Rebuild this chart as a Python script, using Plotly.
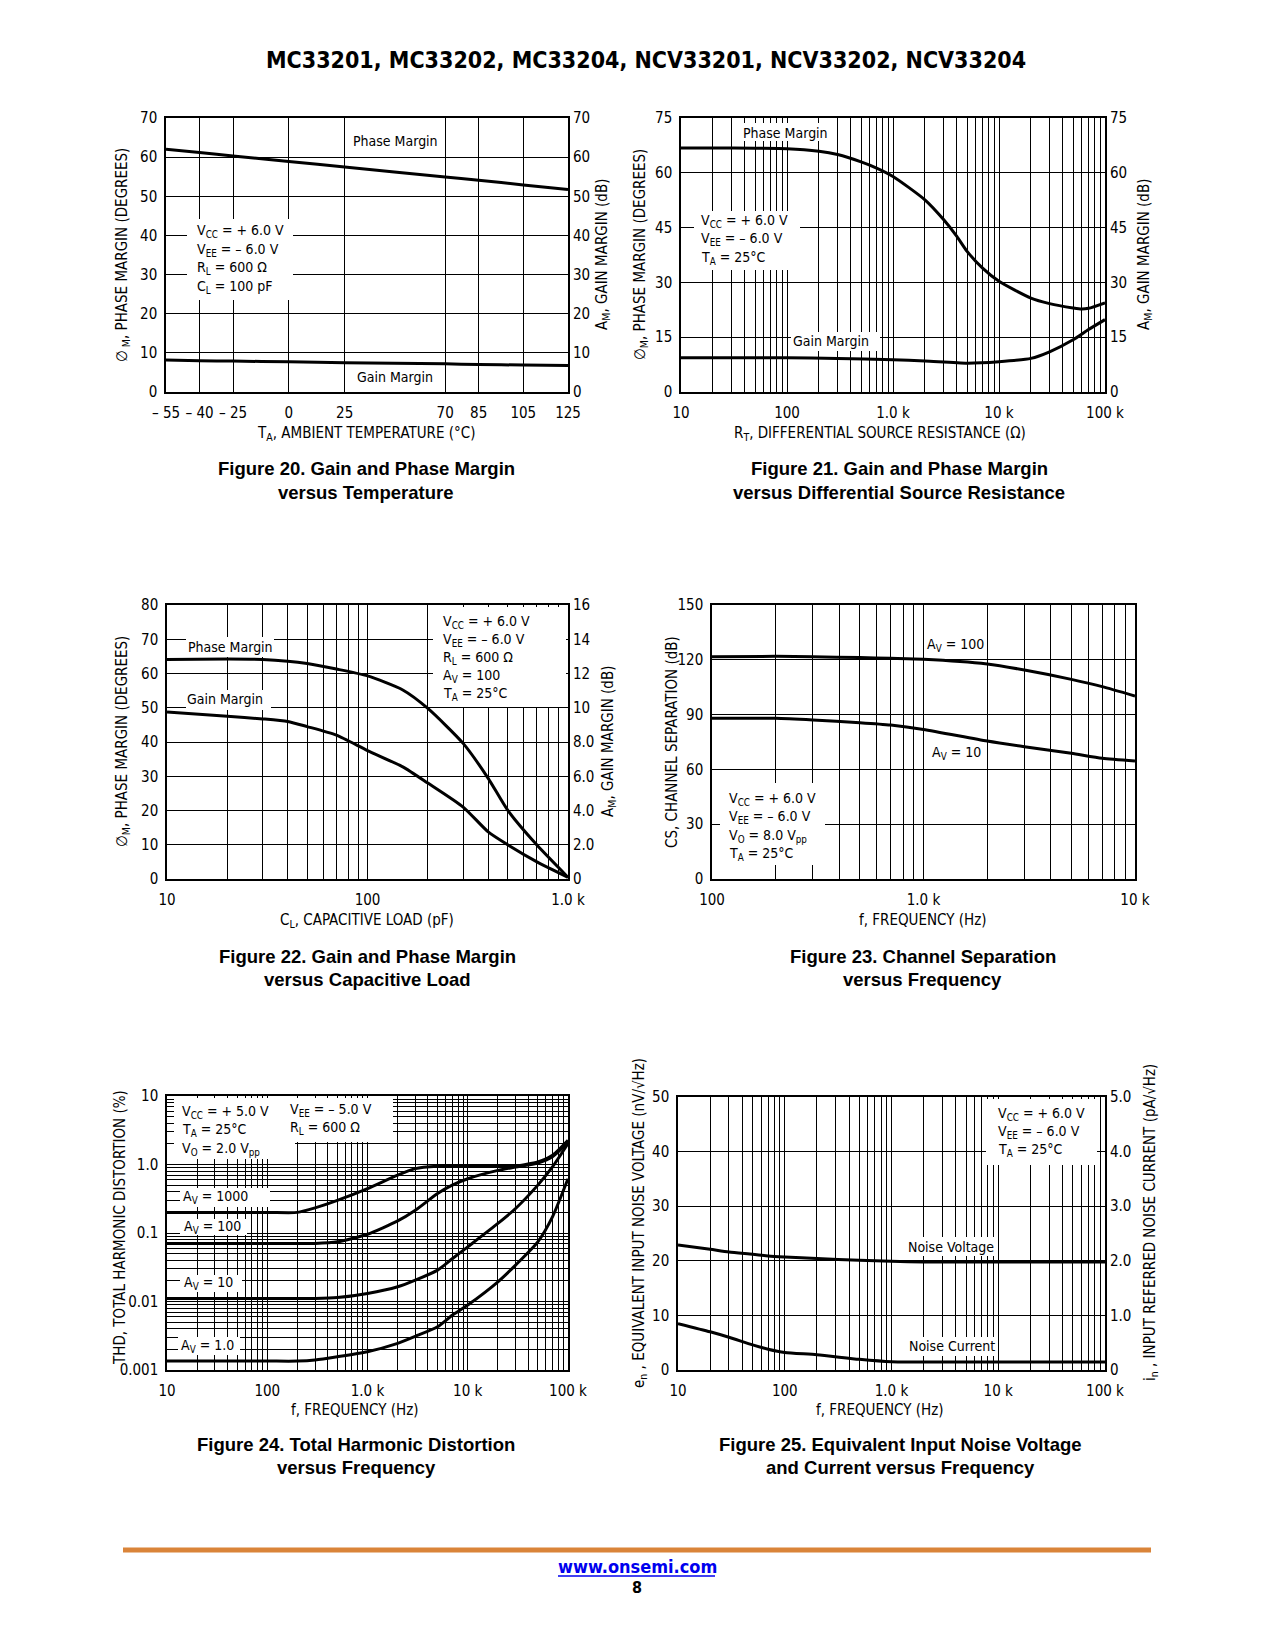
import plotly.graph_objects as go

# page body has an 8 px margin; size the figure so the page fits the window exactly
OFF = 8
W, H = 1275 - 2 * OFF, 1650 - 2 * OFF
NARROW = "DejaVu Sans Condensed, Liberation Sans Narrow, Arial Narrow, sans-serif"
BOLDF = "Liberation Sans, Arial, Helvetica, sans-serif"

# ---------------- data ----------------
# Figure 20: gain / phase margin vs temperature
f20_temp = [-55, -40, -25, 0, 25, 70, 85, 105, 125]
f20_phase = [62.0, 61.2, 60.3, 58.9, 57.5, 54.9, 54.1, 52.9, 51.7]
f20_gain = [8.2, 8.0, 7.9, 7.7, 7.5, 7.2, 7.0, 6.9, 6.8]
f20_xtick_vals = [-55, -40, -25, 0, 25, 70, 85, 105, 125]
f20_xtick_text = ["– 55", "– 40", "– 25", "0", "25", "70", "85", "105", "125"]
f20_ytick_vals = [0, 10, 20, 30, 40, 50, 60, 70]

# Figure 21: gain / phase margin vs differential source resistance
f21_rt_phase = [10, 20, 50, 100, 200, 300, 500, 700, 1000, 2000, 3000, 4000, 5000,
                7000, 10000, 20000, 30000, 50000, 60000, 70000, 100000]
f21_phase = [66.8, 66.8, 66.7, 66.6, 65.9, 65.0, 63.0, 61.3, 59.0, 52.6, 47.2, 42.6, 38.5,
             33.9, 30.3, 25.7, 24.2, 23.0, 22.7, 22.9, 24.4]
f21_rt_gain = [10, 100, 300, 1000, 2000, 5000, 10000, 20000, 30000, 50000, 70000, 100000]
f21_gain = [9.4, 9.4, 9.2, 8.8, 8.5, 7.9, 8.3, 9.2, 11.0, 14.3, 17.1, 19.8]
f21_ytick_vals = [0, 15, 30, 45, 60, 75]

# Figure 22: gain / phase margin vs capacitive load
f22_cl = [10, 20, 30, 40, 50, 70, 100, 150, 200, 300, 400, 500, 700, 1000]
f22_phase = [64.1, 64.2, 64.1, 63.6, 62.9, 61.3, 59.3, 55.2, 49.8, 39.6, 29.4, 20.1, 9.9, 0.5]
f22_gain_db = [9.75, 9.5, 9.35, 9.2, 8.9, 8.4, 7.5, 6.55, 5.6, 4.2, 2.75, 2.0, 1.0, 0.1]
f22_ytick_vals = [0, 10, 20, 30, 40, 50, 60, 70, 80]
f22_y2tick_vals = [0, 2, 4, 6, 8, 10, 12, 14, 16]
f22_y2tick_text = ["0", "2.0", "4.0", "6.0", "8.0", "10", "12", "14", "16"]

# Figure 23: channel separation vs frequency
f23_freq = [100, 200, 300, 500, 700, 1000, 2000, 3000, 5000, 7000, 10000]
f23_av100 = [121.7, 121.9, 121.7, 121.2, 120.8, 120.3, 117.7, 114.4, 109.3, 105.3, 100.2]
f23_av10 = [88.0, 88.0, 87.1, 85.6, 84.3, 81.9, 75.5, 72.4, 68.8, 66.1, 64.6]
f23_ytick_vals = [0, 30, 60, 90, 120, 150]

# Figure 24: THD vs frequency
f24_freq = [10, 100, 200, 300, 500, 1000, 2000, 3000, 5000, 7000, 10000, 20000, 30000, 50000, 70000, 100000]
f24_av1000 = [0.2, 0.2, 0.2, 0.233, 0.30, 0.446, 0.70, 0.87, 0.94, 0.95, 0.95, 0.95, 0.95, 1.09, 1.36, 2.26]
f24_av100 = [0.0703, 0.0703, 0.0703, 0.0705, 0.0744, 0.096, 0.150, 0.215, 0.377, 0.50, 0.62, 0.82, 0.92, 1.05, 1.3, 2.1]
f24_av10 = [0.0111, 0.0111, 0.0111, 0.0111, 0.0114, 0.0131, 0.0164, 0.0205, 0.0287, 0.042, 0.0628, 0.138, 0.228, 0.50, 0.92, 2.02]
f24_av1 = [0.00135, 0.00135, 0.00135, 0.0014, 0.00156, 0.00185, 0.00245, 0.0031, 0.00428, 0.0063, 0.00888, 0.0194, 0.034, 0.0743, 0.172, 0.62]

# Figure 25: noise voltage / current vs frequency
f25_freq = [10, 20, 30, 50, 70, 100, 200, 500, 1000, 2000, 10000, 100000]
f25_noise_v = [22.9, 22.1, 21.6, 21.2, 20.9, 20.7, 20.4, 20.1, 19.9, 19.8, 19.8, 19.8]
f25_noise_i = [0.85, 0.70, 0.60, 0.46, 0.38, 0.32, 0.28, 0.195, 0.15, 0.145, 0.145, 0.145]
f25_ytick_vals = [0, 10, 20, 30, 40, 50]
f25_y2tick_vals = [0, 1, 2, 3, 4, 5]
f25_y2tick_text = ["0", "1.0", "2.0", "3.0", "4.0", "5.0"]

freq_labels = {1: "10", 2: "100", 3: "1.0 k", 4: "10 k", 5: "100 k"}
thd_labels = {-3: "0.001", -2: "0.01", -1: "0.1", 0: "1.0", 1: "10"}

# ---------------- geometry (page pixels) ----------------
P = {
    1: (166, 568, 118, 392),
    2: (681, 1105, 118, 392),
    3: (167, 568, 605, 879),
    4: (712, 1135, 605, 879),
    5: (167, 568, 1096, 1370),
    6: (678, 1105, 1097, 1370),
}


def X(px):
    return (px - OFF) / W


def Y(py):
    return 1 - (py - OFF) / H


def xdom(n):
    l, r, t, b = P[n]
    return [X(l), X(r)]


def ydom(n):
    l, r, t, b = P[n]
    return [Y(b), Y(t)]


def decades(lo, hi, labels):
    vals = [10.0 ** e for e in range(lo, hi + 1)]
    txt = [labels[e] for e in range(lo, hi + 1)]
    minor = [m * 10.0 ** e for e in range(lo, hi) for m in range(2, 10)]
    return vals, txt, minor


TICKFONT = dict(family=NARROW, size=15, color="black")
GRID = dict(showgrid=True, gridcolor="black", gridwidth=1)


def main_axis(minor_vals=None, **kw):
    d = dict(showline=True, linecolor="black", linewidth=1.5, mirror=True,
             zeroline=False, ticks="", tickfont=TICKFONT, tickmode="array",
             fixedrange=True, ticklabelstandoff=4, automargin=False, **GRID)
    if minor_vals:
        d["minor"] = dict(tickmode="array", tickvals=minor_vals, ticks="", **GRID)
    d.update(kw)
    return d


def side_axis(**kw):
    d = dict(showline=False, showgrid=False, zeroline=False, ticks="",
             tickfont=TICKFONT, tickmode="array", side="right", fixedrange=True,
             ticklabelstandoff=4, automargin=False)
    d.update(kw)
    return d


fig = go.Figure()
LINE = dict(color="black", width=3, shape="spline", smoothing=0.6)


def add(x, y, xa, ya):
    fig.add_trace(go.Scatter(x=x, y=y, mode="lines", line=LINE, xaxis=xa, yaxis=ya,
                             showlegend=False, hoverinfo="skip"))


add(f20_temp, f20_phase, "x", "y")
add(f20_temp, f20_gain, "x", "y2")
add(f21_rt_phase, f21_phase, "x2", "y3")
add(f21_rt_gain, f21_gain, "x2", "y4")
add(f22_cl, f22_phase, "x3", "y5")
add(f22_cl, f22_gain_db, "x3", "y6")
add(f23_freq, f23_av100, "x4", "y7")
add(f23_freq, f23_av10, "x4", "y7")
for s in (f24_av1000, f24_av100, f24_av10, f24_av1):
    add(f24_freq, s, "x5", "y8")
add(f25_freq, f25_noise_v, "x6", "y9")
add(f25_freq, f25_noise_i, "x6", "y10")

fx5v, fx5t, fx5m = decades(1, 5, freq_labels)
fx3v, fx3t, fx3m = decades(1, 3, freq_labels)
fx4v, fx4t, fx4m = decades(2, 4, freq_labels)
fy8v, fy8t, fy8m = decades(-3, 1, thd_labels)

fig.update_layout(
    template="none",
    width=W, height=H, autosize=False, margin=dict(l=0, r=0, t=0, b=0, pad=0, autoexpand=False),
    paper_bgcolor="white", plot_bgcolor="white", showlegend=False,
    # Fig 20
    xaxis=main_axis(domain=xdom(1), anchor="y", range=[-55, 125],
                    tickvals=f20_xtick_vals, ticktext=f20_xtick_text, ticklabelstandoff=6),
    yaxis=main_axis(domain=ydom(1), anchor="x", range=[0, 70], tickvals=f20_ytick_vals),
    yaxis2=side_axis(overlaying="y", anchor="x", range=[0, 70], tickvals=f20_ytick_vals),
    # Fig 21
    xaxis2=main_axis(fx5m, domain=xdom(2), anchor="y3", type="log", range=[1, 5],
                     tickvals=fx5v, ticktext=fx5t, ticklabelstandoff=6),
    yaxis3=main_axis(domain=ydom(2), anchor="x2", range=[0, 75], tickvals=f21_ytick_vals),
    yaxis4=side_axis(overlaying="y3", anchor="x2", range=[0, 75], tickvals=f21_ytick_vals),
    # Fig 22
    xaxis3=main_axis(fx3m, domain=xdom(3), anchor="y5", type="log", range=[1, 3],
                     tickvals=fx3v, ticktext=fx3t, ticklabelstandoff=6),
    yaxis5=main_axis(domain=ydom(3), anchor="x3", range=[0, 80], tickvals=f22_ytick_vals),
    yaxis6=side_axis(overlaying="y5", anchor="x3", range=[0, 16],
                     tickvals=f22_y2tick_vals, ticktext=f22_y2tick_text),
    # Fig 23
    xaxis4=main_axis(fx4m, domain=xdom(4), anchor="y7", type="log", range=[2, 4],
                     tickvals=fx4v, ticktext=fx4t, ticklabelstandoff=6),
    yaxis7=main_axis(domain=ydom(4), anchor="x4", range=[0, 150], tickvals=f23_ytick_vals),
    # Fig 24
    xaxis5=main_axis(fx5m, domain=xdom(5), anchor="y8", type="log", range=[1, 5],
                     tickvals=fx5v, ticktext=fx5t, ticklabelstandoff=6),
    yaxis8=main_axis(fy8m, domain=ydom(5), anchor="x5", type="log", range=[-3, 1],
                     tickvals=fy8v, ticktext=fy8t),
    # Fig 25
    xaxis6=main_axis(fx5m, domain=xdom(6), anchor="y9", type="log", range=[1, 5],
                     tickvals=fx5v, ticktext=fx5t, ticklabelstandoff=6),
    yaxis9=main_axis(domain=ydom(6), anchor="x6", range=[0, 50], tickvals=f25_ytick_vals),
    yaxis10=side_axis(overlaying="y9", anchor="x6", range=[0, 5],
                      tickvals=f25_y2tick_vals, ticktext=f25_y2tick_text),
)

# ---------------- white label boxes (hide the grid behind labels) ----------------
shapes = []


def box(x0, x1, y0, y1):
    shapes.append(dict(type="rect", xref="paper", yref="paper", layer="above",
                       x0=X(x0), x1=X(x1), y0=Y(y1), y1=Y(y0),
                       fillcolor="white", line=dict(width=0)))


box(187, 293, 219, 300)          # fig 20 conditions
box(742, 829, 123, 141)          # fig 21 phase label
box(694, 800, 211, 270)          # fig 21 conditions
box(791, 880, 332, 351)          # fig 21 gain label
box(433, 566, 607, 707)          # fig 22 conditions
box(186, 274, 637, 657)          # fig 22 phase label
box(186, 271, 690, 710)          # fig 22 gain label
box(720, 825, 783, 865)          # fig 23 conditions
box(174, 295, 1098, 1159)        # fig 24 conditions (left)
box(285, 393, 1098, 1142)        # fig 24 conditions (right)
box(180, 270, 1188, 1207)
box(180, 247, 1219, 1235)
box(180, 242, 1275, 1292)
box(178, 240, 1337, 1355)
box(986, 1097, 1099, 1165)       # fig 25 conditions
box(904, 997, 1237, 1256)
box(906, 997, 1337, 1356)

# footer rule and link underline
shapes.append(dict(type="line", xref="paper", yref="paper", x0=X(123), x1=X(1151),
                   y0=Y(1550), y1=Y(1550), line=dict(color="#DA8439", width=5)))
shapes.append(dict(type="line", xref="paper", yref="paper", x0=X(558), x1=X(715),
                   y0=Y(1576), y1=Y(1576), line=dict(color="#0000EE", width=1.5)))

# ---------------- text ----------------
anns = []


def T(x, y, text, size=14, anchor="center", family=NARROW, angle=0, color="black", bold=False):
    if bold:
        text = "<b>" + text + "</b>"
    anns.append(dict(x=X(x), y=Y(y), xref="paper", yref="paper", text=text,
                     showarrow=False, xanchor=anchor, yanchor="middle", textangle=angle,
                     font=dict(family=family, size=size, color=color)))


VCC6 = "V<sub>CC</sub> = + 6.0 V"
VEE6 = "V<sub>EE</sub> = – 6.0 V"
TA = "T<sub>A</sub> = 25°C"
CAP = dict(size=18.5, family=BOLDF, bold=True)

# page title
T(646, 60, "MC33201, MC33202, MC33204, NCV33201, NCV33202, NCV33204", size=23, bold=True)

# Fig 20
T(395, 141, "Phase Margin")
T(395, 377, "Gain Margin")
for i, s in enumerate([VCC6, VEE6, "R<sub>L</sub> = 600 Ω", "C<sub>L</sub> = 100 pF"]):
    T(195, 231 + i * 18.7, s, anchor="left")
T(366, 433, "T<sub>A</sub>, AMBIENT TEMPERATURE (°C)", size=15)
T(122, 255, "∅<sub> M</sub>, PHASE MARGIN (DEGREES)", size=15, angle=-90)
T(602, 255, "A<sub>M</sub>, GAIN MARGIN (dB)", size=15, angle=-90)
T(366, 469, "Figure 20. Gain and Phase Margin", **CAP)
T(366, 492, "versus Temperature", **CAP)

# Fig 21
T(785, 133, "Phase Margin")
T(831, 341, "Gain Margin")
for i, s in enumerate([VCC6, VEE6, TA]):
    T(699, 221 + i * 18.3, s, anchor="left")
T(880, 433, "R<sub>T</sub>, DIFFERENTIAL SOURCE RESISTANCE (Ω)", size=15)
T(640, 255, "∅<sub>M</sub>, PHASE MARGIN (DEGREES)", size=15, angle=-90)
T(1144, 255, "A<sub>M</sub>, GAIN MARGIN (dB)", size=15, angle=-90)
T(899, 469, "Figure 21. Gain and Phase Margin", **CAP)
T(899, 492, "versus Differential Source Resistance", **CAP)

# Fig 22
T(230, 647, "Phase Margin")
T(225, 699, "Gain Margin")
for i, s in enumerate([VCC6, VEE6, "R<sub>L</sub> = 600 Ω", "A<sub>V</sub> = 100", TA]):
    T(441, 622 + i * 18.1, s, anchor="left")
T(367, 920, "C<sub>L</sub>, CAPACITIVE LOAD (pF)", size=15)
T(122, 742, "∅<sub>M</sub>, PHASE MARGIN (DEGREES)", size=15, angle=-90)
T(608, 742, "A<sub>M</sub>, GAIN MARGIN (dB)", size=15, angle=-90)
T(367, 956, "Figure 22. Gain and Phase Margin", **CAP)
T(367, 979, "versus Capacitive Load", **CAP)

# Fig 23
T(955, 645, "A<sub>V</sub> = 100")
T(956, 753, "A<sub>V</sub> = 10")
for i, s in enumerate([VCC6, VEE6, "V<sub>O</sub> = 8.0 V<sub>pp</sub>", TA]):
    T(727, 799 + i * 18.3, s, anchor="left")
T(923, 920, "f, FREQUENCY (Hz)", size=15)
T(672, 742, "CS, CHANNEL SEPARATION (dB)", size=15, angle=-90)
T(923, 956, "Figure 23. Channel Separation", **CAP)
T(923, 979, "versus Frequency", **CAP)

# Fig 24
for i, s in enumerate(["V<sub>CC</sub> = + 5.0 V", TA, "V<sub>O</sub> = 2.0 V<sub>pp</sub>"]):
    T(180, 1112 + i * 18.3, s, anchor="left")
for i, s in enumerate(["V<sub>EE</sub> = – 5.0 V", "R<sub>L</sub> = 600 Ω"]):
    T(288, 1110 + i * 18.3, s, anchor="left")
T(215, 1197, "A<sub>V</sub> = 1000")
T(212, 1227, "A<sub>V</sub> = 100")
T(208, 1283, "A<sub>V</sub> = 10")
T(207, 1346, "A<sub>V</sub> = 1.0")
T(355, 1410, "f, FREQUENCY (Hz)", size=15)
T(120, 1228, "THD, TOTAL HARMONIC DISTORTION (%)", size=15, angle=-90)
T(356, 1444, "Figure 24. Total Harmonic Distortion", **CAP)
T(356, 1467, "versus Frequency", **CAP)

# Fig 25
for i, s in enumerate([VCC6, VEE6, TA]):
    T(996, 1114 + i * 18.0, s, anchor="left")
T(951, 1247, "Noise Voltage")
T(952, 1346, "Noise Current")
T(880, 1410, "f, FREQUENCY (Hz)", size=15)
T(639, 1223, "e<sub>n</sub> , EQUIVALENT INPUT NOISE VOLTAGE (nV/√Hz)", size=15, angle=-90)
T(1150, 1223, "i<sub>n</sub> , INPUT REFERRED NOISE CURRENT (pA/√Hz)", size=15, angle=-90)
T(900, 1444, "Figure 25. Equivalent Input Noise Voltage", **CAP)
T(900, 1467, "and Current versus Frequency", **CAP)

# footer
T(637, 1566, "www.onsemi.com", size=18, color="#0000EE", bold=True)
T(637, 1587, "8", size=16, bold=True)

fig.update_layout(shapes=shapes, annotations=anns)
fig.write_html("out.html", config={"responsive": False, "displayModeBar": False})
